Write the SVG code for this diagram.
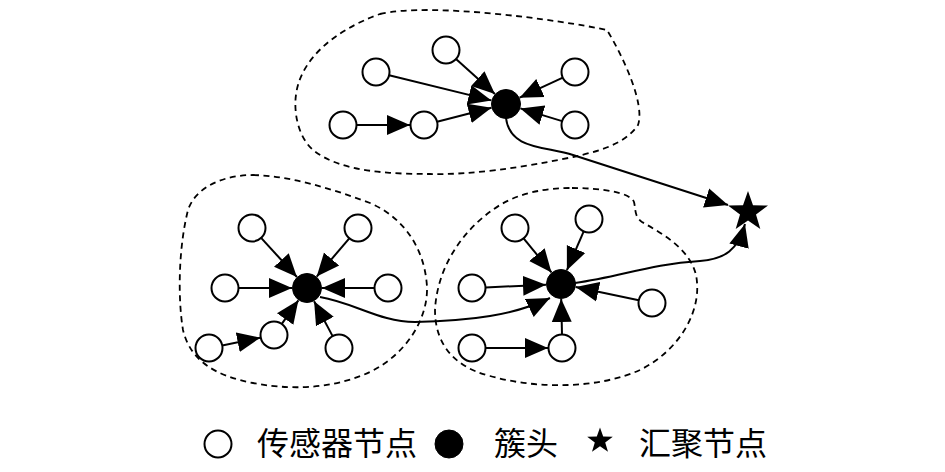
<svg xmlns="http://www.w3.org/2000/svg" width="945" height="472" viewBox="0 0 945 472">
<style>
.s{fill:#fff;stroke:#000;stroke-width:2}
.h{fill:#000;stroke:#000;stroke-width:1}
.b{fill:none;stroke:#000;stroke-width:1.8;stroke-dasharray:6,4.5}
.e{fill:none;stroke:#000;stroke-width:2;marker-end:url(#ar)}
.t{font-family:"Noto Sans CJK SC","Noto Sans",sans-serif;font-size:32px;fill:#000}
</style>
<defs>
<marker id="ar" markerUnits="userSpaceOnUse" viewBox="0 0 24 22" markerWidth="24" markerHeight="22" refX="23" refY="11" orient="auto">
<path d="M0,1 L23,11 L0,21 z" fill="#000"/>
</marker>
</defs>
<rect width="945" height="472" fill="#fff"/>
<g id="boundaries">
<path class="b" d="M380,14 C430,2 560,20 607,30 C625,60 645,105 638,125 C625,145 595,152 573,157 C520,168 470,175 430,174 C390,174 340,172 313,150 C296,135 292,105 298,85 C305,60 330,32 380,14 Z"/>
<path class="b" d="M253,175 C290,176 330,188 370,203 C405,218 425,250 427,287 C428,320 405,355 370,372 C340,386 300,392 253,383 C215,376 190,360 183,330 C178,300 178,250 188,210 C196,186 225,175 253,175 Z"/>
<path class="b" d="M572,188 C600,188 630,192 634,202 C636,210 634,216 642,222 C665,235 690,250 696,275 C703,310 680,350 640,370 C600,388 540,390 490,376 C450,366 435,340 435,310 C437,270 460,230 500,205 C520,193 545,188 572,188 Z"/>
</g>
<g id="connectors">
<line class="e" x1="456" y1="59" x2="494.9" y2="94"/>
<line class="e" x1="389.1" y1="75.2" x2="491.4" y2="100.4"/>
<line class="e" x1="562.8" y1="77.7" x2="519.6" y2="97.7"/>
<line class="e" x1="356.5" y1="125" x2="410" y2="125"/>
<line class="e" x1="437.1" y1="121.7" x2="491.5" y2="107.7"/>
<line class="e" x1="562.1" y1="121.1" x2="520.4" y2="108.4"/>
<line class="e" x1="261.1" y1="237.9" x2="296.9" y2="277"/>
<line class="e" x1="349.3" y1="238.3" x2="316.7" y2="276.6"/>
<line class="e" x1="238.5" y1="288" x2="292" y2="288"/>
<line class="e" x1="374.5" y1="288" x2="322" y2="288"/>
<line class="e" x1="281.8" y1="323.9" x2="298.4" y2="300.3"/>
<line class="e" x1="222.2" y1="345.4" x2="260.3" y2="337.7"/>
<line class="e" x1="332.6" y1="336.1" x2="314.1" y2="301.2"/>
<line class="e" x1="523.6" y1="238.4" x2="551.5" y2="272.4"/>
<line class="e" x1="583.7" y1="231.4" x2="566.9" y2="270.2"/>
<line class="e" x1="485.5" y1="287.4" x2="546" y2="284.7"/>
<line class="e" x1="638.8" y1="300.2" x2="575.7" y2="287.1"/>
<line class="e" x1="485.5" y1="348" x2="548" y2="348"/>
<line class="e" x1="562" y1="334.5" x2="561.2" y2="299"/>
<path class="e" d="M506,118 C510,150 545,146 573,155 L728,205"/>
<path class="e" d="M320,297 C355,303 380,322 415,322 C470,321 515,315 550,298"/>
<path class="e" d="M575,283 C620,277 650,264 700,261 C725,259 738,250 745,224"/>
</g>
<g id="cluster1">
<circle id="h1" class="h" cx="506" cy="104" r="14.5"/>
<circle class="s" cx="446" cy="50" r="13.5"/>
<circle class="s" cx="376" cy="72" r="13.5"/>
<circle class="s" cx="575" cy="72" r="13.5"/>
<circle class="s" cx="343" cy="125" r="13.5"/>
<circle class="s" cx="424" cy="125" r="13.5"/>
<circle class="s" cx="575" cy="125" r="13.5"/>
</g>
<g id="cluster2">
<circle id="h2" class="h" cx="307" cy="288" r="14.5"/>
<circle class="s" cx="252" cy="228" r="13.5"/>
<circle class="s" cx="358" cy="228" r="13.5"/>
<circle class="s" cx="225" cy="288" r="13.5"/>
<circle class="s" cx="388" cy="288" r="13.5"/>
<circle class="s" cx="274" cy="335" r="13.5"/>
<circle class="s" cx="209" cy="348" r="13.5"/>
<circle class="s" cx="339" cy="348" r="13.5"/>
</g>
<g id="cluster3">
<circle id="h3" class="h" cx="561" cy="284" r="14.5"/>
<circle class="s" cx="515" cy="228" r="13.5"/>
<circle class="s" cx="589" cy="219" r="13.5"/>
<circle class="s" cx="472" cy="288" r="13.5"/>
<circle class="s" cx="652" cy="303" r="13.5"/>
<circle class="s" cx="472" cy="348" r="13.5"/>
<circle class="s" cx="562" cy="348" r="13.5"/>
</g>
<g id="sink">
<polygon fill="#000" points="748,191 753,205.2 768,205.5 756,214.6 760.3,229 748,220.4 735.7,229 740,214.6 728,205.5 743,205.2"/>
</g>
<g id="legend">
<circle class="s" cx="218" cy="444" r="13.5"/>
<text class="t" x="257" y="455">传感器节点</text>
<circle class="h" cx="449" cy="444" r="14"/>
<text class="t" x="494" y="455">簇头</text>
<polygon fill="#000" points="600,427.5 603.2,436.6 612.8,436.8 605.2,442.6 608,451.8 600,446.3 592,451.8 594.8,442.6 587.2,436.8 596.8,436.6"/>
<text class="t" x="639" y="455">汇聚节点</text>
</g>
</svg>
